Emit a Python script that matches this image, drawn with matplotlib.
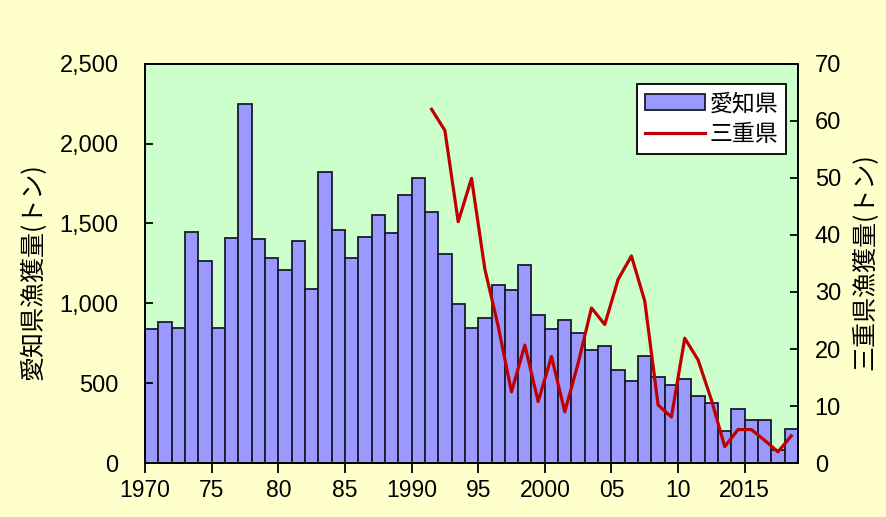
import numpy as np
import matplotlib.pyplot as plt
from matplotlib.ticker import FuncFormatter

plt.rcParams['font.family'] = ['Liberation Sans', 'Noto Sans CJK JP', 'DejaVu Sans']
JP = ['Noto Sans CJK JP', 'DejaVu Sans']

# 愛知県 catch (t), 1970-2018
aichi_years = np.arange(1970, 2019)
aichi = [840, 883, 848, 1446, 1262, 848, 1411, 2248, 1400, 1285,
         1210, 1390, 1093, 1819, 1461, 1285, 1415, 1551, 1438, 1681,
         1784, 1574, 1311, 998, 848, 909, 1118, 1082, 1243, 929,
         840, 894, 814, 710, 735, 584, 515, 668, 538, 490,
         526, 421, 375, 200, 337, 268, 268, 80, 212]

# 三重県 catch (t), 1991-2018
mie_years = np.arange(1991, 2019)
mie = [62.0, 58.3, 42.3, 49.9, 34.0, 24.0, 12.5, 20.7, 10.8, 18.7,
       9.0, 17.5, 27.2, 24.3, 32.2, 36.3, 28.4, 10.2, 8.1, 21.9,
       18.1, 11.1, 2.9, 5.9, 5.9, 4.0, 2.0, 4.8]

xtick_pos = [1970, 1975, 1980, 1985, 1990, 1995, 2000, 2005, 2010, 2015]
xtick_lab = ['1970', '75', '80', '85', '1990', '95', '2000', '05', '10', '2015']

fig = plt.figure(figsize=(8.86, 5.17), dpi=100, facecolor='#FFFFCC')
ax = fig.add_axes([0.1637, 0.104, 0.7370, 0.773])
ax.set_facecolor('#CCFFCC')

bars = ax.bar(aichi_years + 0.5, aichi, width=1.0, color='#9999FF',
              edgecolor='#1a1a2e', linewidth=1.3, label='愛知県')
ax.set_xlim(1970, 2019)
ax.set_ylim(0, 2500)
ax.set_yticks(np.arange(0, 2501, 500))
ax.yaxis.set_major_formatter(FuncFormatter(lambda v, p: f'{int(v):,}'))
ax.set_xticks(xtick_pos)
ax.set_xticklabels(xtick_lab)
ax.tick_params(axis='x', direction='out', length=7, width=1.3, labelsize=16.5, pad=4)
ax.tick_params(axis='y', direction='in', length=6, width=1.3, labelsize=17, pad=19)
for s in ax.spines.values():
    s.set_linewidth(1.3)

ax2 = ax.twinx()
line, = ax2.plot(mie_years + 0.5, mie, color='#C00000', linewidth=2.3, label='三重県')
ax2.set_ylim(0, 70)
ax2.set_yticks(np.arange(0, 71, 10))
ax2.tick_params(axis='y', direction='in', length=6, width=1.3, labelsize=17, pad=12)
for s in ax2.spines.values():
    s.set_linewidth(1.3)

ax.set_ylabel('愛知県漁獲量(トン)', family=JP, fontsize=18)
ax2.set_ylabel('三重県漁獲量(トン)', family=JP, fontsize=18)
ax.yaxis.set_label_coords(-0.150, 0.48)
ax2.yaxis.set_label_coords(1.082, 0.504)

leg = ax2.legend([bars, line], ['愛知県', '三重県'], loc='upper right',
                 bbox_to_anchor=(0.982, 0.948), prop={'family': JP, 'size': 16.5},
                 frameon=True, fancybox=False, edgecolor='black', borderaxespad=0,
                 framealpha=1.0, handlelength=2.6, handletextpad=0.2,
                 borderpad=0.35, labelspacing=0.35)
leg.get_frame().set_linewidth(1.3)

fig.savefig('out.png', dpi=100, facecolor=fig.get_facecolor())
